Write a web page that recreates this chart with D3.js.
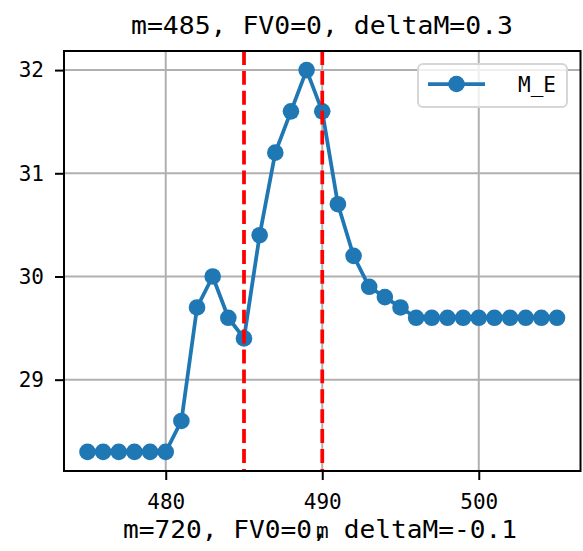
<!DOCTYPE html>
<html>
<head>
<meta charset="utf-8">
<script src="https://cdn.jsdelivr.net/npm/d3@7"></script>
<style>
html,body{margin:0;padding:0;background:#fff;}
svg{display:block;}
</style>
</head>
<body>
<script>
const xValues = [475,476,477,478,479,480,481,482,483,484,485,486,487,488,489,490,491,492,493,494,495,496,497,498,499,500,501,502,503,504,505];
const meValues = [28.3,28.3,28.3,28.3,28.3,28.3,28.6,29.7,30.0,29.6,29.4,30.4,31.2,31.6,32.0,31.6,30.7,30.2,29.9,29.8,29.7,29.6,29.6,29.6,29.6,29.6,29.6,29.6,29.6,29.6,29.6];
const vLines = [485, 490];
const xTicks = [480, 490, 500];
const yTicks = [29, 30, 31, 32];
const seriesName = "M_E";
const titleText = "m=485, FV0=0, deltaM=0.3";
const xLabelText = "m";
const lowerTitleText = "m=720, FV0=0, deltaM=-0.1";

const W = 583, H = 551;
const L = 64, R = 580.5, T = 51, B = 471;
const FONT = "'DejaVu Sans Mono', 'Liberation Mono', monospace";

const svg = d3.select("body").append("svg").attr("width", W).attr("height", H);

const xMin = d3.min(xValues), xMax = d3.max(xValues);
const xPad = (xMax - xMin) * 0.05;
const yMin = d3.min(meValues), yMax = d3.max(meValues);
const yPad = (yMax - yMin) * 0.05;
const x = d3.scaleLinear().domain([xMin - xPad, xMax + xPad]).range([L, R]);
const y = d3.scaleLinear().domain([yMin - yPad, yMax + yPad]).range([B, T]);

// grid
const grid = svg.append("g");
grid.selectAll(".gx").data(xTicks).enter().append("line")
  .attr("x1", d => x(d)).attr("x2", d => x(d)).attr("y1", T).attr("y2", B)
  .attr("stroke", "#b0b0b0").attr("stroke-width", 2);
grid.selectAll(".gy").data(yTicks).enter().append("line")
  .attr("x1", L).attr("x2", R).attr("y1", d => y(d)).attr("y2", d => y(d))
  .attr("stroke", "#b0b0b0").attr("stroke-width", 2);

// data line
const clip = svg.append("clipPath").attr("id", "clip").append("rect")
  .attr("x", L).attr("y", T).attr("width", R - L).attr("height", B - T);
const pts = xValues.map((v, i) => [v, meValues[i]]);
const plot = svg.append("g");
plot.append("path").datum(pts)
  .attr("fill", "none").attr("stroke", "#1f77b4").attr("stroke-width", 3.75)
  .attr("stroke-linejoin", "round").attr("stroke-linecap", "square")
  .attr("d", d3.line().x(d => x(d[0])).y(d => y(d[1])));
plot.selectAll("circle").data(pts).enter().append("circle")
  .attr("cx", d => x(d[0])).attr("cy", d => y(d[1])).attr("r", 8.3)
  .attr("fill", "#1f77b4");

// vertical dashed lines
svg.append("g").selectAll("line").data(vLines).enter().append("line")
  .attr("x1", d => x(d)).attr("x2", d => x(d)).attr("y1", T).attr("y2", B)
  .attr("stroke", "#ff0000").attr("stroke-width", 3.75)
  .attr("stroke-dasharray", "13.9,6");

// axes
const xAxis = svg.append("g").attr("transform", `translate(0,${B})`)
  .call(d3.axisBottom(x).tickValues(xTicks).tickSize(9).tickPadding(14).tickFormat(d3.format("d")));
const yAxis = svg.append("g").attr("transform", `translate(${L},0)`)
  .call(d3.axisLeft(y).tickValues(yTicks).tickSize(9).tickPadding(11).tickFormat(d3.format("d")));
[xAxis, yAxis].forEach(a => {
  a.select(".domain").remove();
  a.selectAll(".tick line").attr("stroke", "#000").attr("stroke-width", 2);
  a.selectAll(".tick text").attr("fill", "#000").style("font-family", FONT).style("font-size", "21px");
});

// spines
svg.append("rect").attr("x", L).attr("y", T).attr("width", R - L).attr("height", B - T)
  .attr("fill", "none").attr("stroke", "#000").attr("stroke-width", 2);

// legend
const lg = svg.append("g");
lg.append("rect").attr("x", 418).attr("y", 64).attr("width", 149).attr("height", 43)
  .attr("rx", 5).attr("ry", 5)
  .attr("fill", "rgba(255,255,255,0.8)").attr("stroke", "#d6d6d6").attr("stroke-width", 2);
lg.append("line").attr("x1", 428).attr("x2", 485).attr("y1", 84).attr("y2", 84)
  .attr("stroke", "#1f77b4").attr("stroke-width", 3.75);
lg.append("circle").attr("cx", 456.5).attr("cy", 84).attr("r", 8.3).attr("fill", "#1f77b4");
lg.append("text").attr("x", 518).attr("y", 92).text(seriesName)
  .style("font-family", FONT).style("font-size", "21px").attr("fill", "#000");

// title
svg.append("text").attr("x", 131).attr("y", 34).text(titleText)
  .attr("textLength", 382).attr("lengthAdjust", "spacingAndGlyphs")
  .style("font-family", FONT).style("font-size", "25px").attr("fill", "#000")
  .attr("xml:space", "preserve");

// lower subplot title (overlapping) and x label
svg.append("text").attr("x", 123).attr("y", 538).text(lowerTitleText)
  .attr("textLength", 394).attr("lengthAdjust", "spacingAndGlyphs")
  .style("font-family", FONT).style("font-size", "25px").attr("fill", "#000");
svg.append("text").attr("x", (L + R) / 2).attr("y", 538).attr("text-anchor", "middle")
  .text(xLabelText).style("font-family", FONT).style("font-size", "21px").attr("fill", "#000");
</script>
</body>
</html>
